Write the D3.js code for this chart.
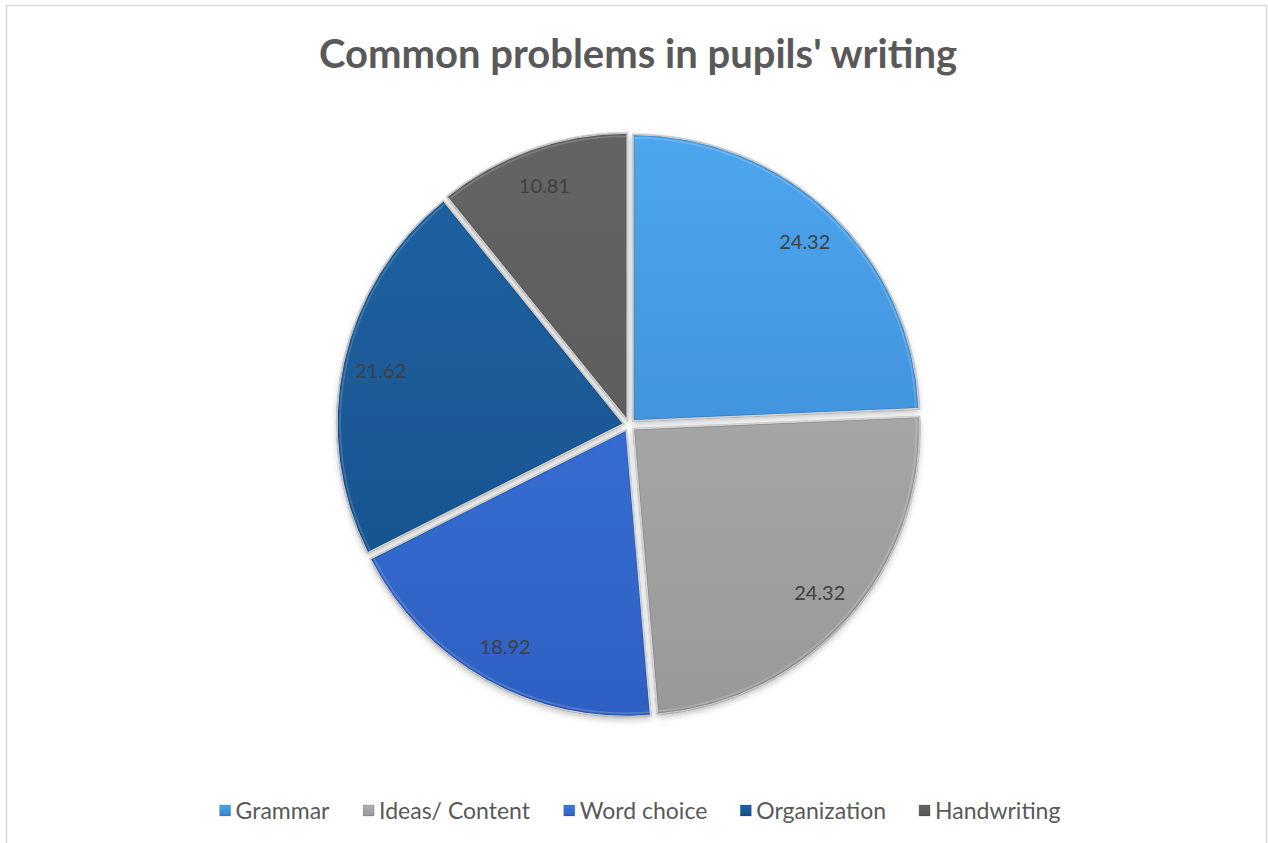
<!DOCTYPE html>
<html><head><meta charset="utf-8">
<script src="https://cdn.jsdelivr.net/npm/d3@7"></script>
<style>html,body{margin:0;padding:0;background:#fff;}svg{display:block;}</style>
</head><body>
<svg id="c" width="1268" height="843"></svg>
<script>
const categories = ["Grammar", "Ideas/ Content", "Word choice", "Organization", "Handwriting"];
const values = [24.32, 24.32, 18.92, 21.62, 10.81];
const labels = ["24.32", "24.32", "18.92", "21.62", "10.81"];
const colorsTop = ["#4da6ee", "#b0b0b0", "#3c79e0", "#1d62a3", "#646464"];
const colorsBottom = ["#3683cc", "#999999", "#2e60c2", "#17508a", "#575757"];
const title = "Common problems in pupils' writing";

const W = 1268, H = 843;
const svg = d3.select("#c");
const defs = svg.append("defs");

// border
svg.append("rect").attr("x", 6.5).attr("y", 5.5).attr("width", 1260).attr("height", 850)
  .attr("fill", "#fff").attr("stroke", "#d9d9d9").attr("stroke-width", 1.5);

svg.append("text").attr("x", 638).attr("y", 68).attr("text-anchor", "middle")
  .attr("font-family", "Lato, 'Open Sans', sans-serif").attr("font-weight", "bold")
  .attr("font-size", 40).attr("fill", "#595959").text(title);

const cx = 629, cy = 425, r = 286, explode = 6;

const sh = defs.append("filter").attr("id", "sh").attr("x", "-20%").attr("y", "-20%").attr("width", "140%").attr("height", "140%");
sh.append("feDropShadow").attr("dx", 0).attr("dy", 3).attr("stdDeviation", 3)
  .attr("flood-color", "#000").attr("flood-opacity", 0.25);

categories.forEach((c, i) => {
  const g = defs.append("linearGradient").attr("id", "g" + i)
    .attr("gradientUnits", "userSpaceOnUse")
    .attr("x1", 0).attr("y1", -r).attr("x2", 0).attr("y2", r);
  g.append("stop").attr("offset", "0%").attr("stop-color", colorsTop[i]);
  g.append("stop").attr("offset", "100%").attr("stop-color", colorsBottom[i]);
});

const pie = d3.pie().sort(null).value(d => d)(values);
const arc = d3.arc().innerRadius(0).outerRadius(r);
const inner = d3.arc().innerRadius(0).outerRadius(r - 3);
const labelArc = d3.arc().innerRadius(248).outerRadius(248);

const gPie = svg.append("g").attr("transform", `translate(${cx},${cy})`);
const slices = gPie.selectAll("g.s").data(pie).join("g").attr("class", "s")
  .attr("transform", d => {
    const a = (d.startAngle + d.endAngle) / 2;
    return `translate(${explode * Math.sin(a)},${-explode * Math.cos(a)})`;
  });
slices.append("path").attr("d", arc).attr("fill", (d, i) => `url(#g${i})`)
  .attr("filter", "url(#sh)").attr("stroke", "#fff").attr("stroke-width", 1);
slices.append("path").attr("d", arc).attr("fill", "none")
  .attr("stroke", "#000").attr("stroke-opacity", 0.18).attr("stroke-width", 2.5);
slices.append("path").attr("d", inner).attr("fill", "none")
  .attr("stroke", "#fff").attr("stroke-opacity", 0.18).attr("stroke-width", 1.5);

gPie.selectAll("text.l").data(pie).join("text").attr("class", "l")
  .attr("transform", d => {
    const a = (d.startAngle + d.endAngle) / 2;
    const p = labelArc.centroid(d);
    return `translate(${p[0] + explode * Math.sin(a)},${p[1] - explode * Math.cos(a)})`;
  })
  .attr("text-anchor", "middle").attr("dy", "0.35em")
  .attr("font-family", "Lato, 'Open Sans', sans-serif").attr("font-size", 20)
  .attr("fill", "#404040").text((d, i) => labels[i]);

// legend
categories.forEach((c, i) => {
  const g = defs.append("linearGradient").attr("id", "lg" + i).attr("x1", 0).attr("y1", 0).attr("x2", 0).attr("y2", 1);
  g.append("stop").attr("offset", "0%").attr("stop-color", colorsTop[i]);
  g.append("stop").attr("offset", "100%").attr("stop-color", colorsBottom[i]);
});
const lg = svg.append("g");
const items = lg.selectAll("g").data(categories).join("g");
items.append("rect").attr("width", 11).attr("height", 11).attr("y", -6)
  .attr("fill", (d, i) => `url(#lg${i})`).attr("stroke", "#000").attr("stroke-opacity", 0.15);
items.append("text").attr("x", 16).attr("dy", "0.35em")
  .attr("font-family", "Lato, 'Open Sans', sans-serif").attr("font-size", 23)
  .attr("fill", "#595959").text(d => d);
let x = 0; const gap = 33; const xs = [];
items.each(function () {
  const w = this.getBBox().width;
  xs.push(x); x += w + gap;
});
const total = x - gap;
const start = 640 - total / 2;
items.attr("transform", (d, i) => `translate(${start + xs[i]},811)`);
</script>
</body></html>
